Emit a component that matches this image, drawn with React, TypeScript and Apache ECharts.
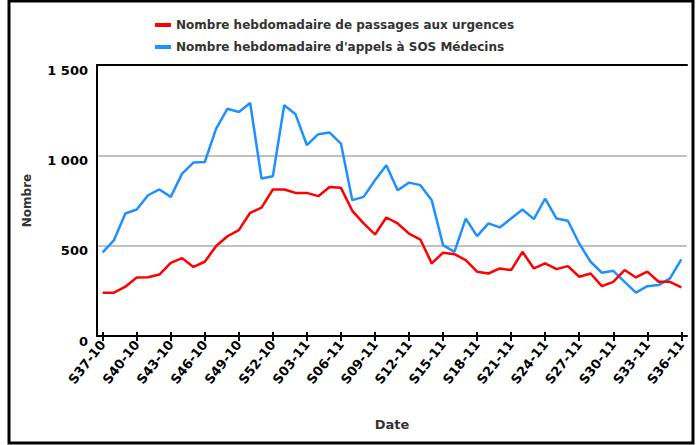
import React, { useEffect, useRef } from "react";
import * as echarts from "echarts";

const weeks: string[] = [
  "S37-10","S38-10","S39-10","S40-10","S41-10","S42-10","S43-10","S44-10","S45-10","S46-10",
  "S47-10","S48-10","S49-10","S50-10","S51-10","S52-10",
  "S01-11","S02-11","S03-11","S04-11","S05-11","S06-11","S07-11","S08-11","S09-11","S10-11",
  "S11-11","S12-11","S13-11","S14-11","S15-11","S16-11","S17-11","S18-11","S19-11","S20-11",
  "S21-11","S22-11","S23-11","S24-11","S25-11","S26-11","S27-11","S28-11","S29-11","S30-11",
  "S31-11","S32-11","S33-11","S34-11","S35-11","S36-11",
];

const urgences: number[] = [
  240, 240, 273, 324, 325, 340, 405, 431, 382, 411,
  498, 552, 586, 682, 711, 811, 811, 792, 792, 774,
  825, 820, 693, 623, 562, 656, 623, 567, 534, 402,
  461, 453, 420, 356, 346, 374, 365, 466, 374, 402,
  370, 387, 328, 346, 276, 300, 365, 324, 356, 300,
  300, 269,
];

const sosMedecins: number[] = [
  463, 531, 678, 700, 779, 811, 770, 899, 960, 963,
  1148, 1258, 1240, 1290, 872, 884, 1277, 1227, 1056, 1117,
  1126, 1065, 752, 770, 862, 945, 807, 849, 835, 752,
  503, 466, 650, 553, 623, 601, 650, 700, 647, 761,
  650, 638, 512, 411, 350, 361, 300, 240, 276, 282,
  319, 424,
];

const seriesNames: string[] = [
  "Nombre hebdomadaire de passages aux urgences",
  "Nombre hebdomadaire d'appels à SOS Médecins",
];

const FONT = "'DejaVu Sans', Verdana, sans-serif";

export default function App() {
  const ref = useRef<HTMLDivElement>(null);
  useEffect(() => {
    if (!ref.current) return;
    const chart = echarts.init(ref.current, undefined, { renderer: "svg" });
    const labelStyle = { fontFamily: FONT, fontWeight: "bold" as const, fontSize: 13, color: "#000" };
    chart.setOption({
      animation: false,
      backgroundColor: "#fff",
      textStyle: { fontFamily: FONT },
      graphic: [
        {
          type: "rect",
          shape: { x: 9, y: 1, width: 684, height: 442 },
          style: { fill: "none", stroke: "#000", lineWidth: 3 },
          silent: true,
          z: 100,
        },
      ],
      legend: {
        orient: "vertical",
        left: 150,
        top: 14,
        itemWidth: 16,
        itemHeight: 4,
        itemGap: 10,
        icon: "rect",
        textStyle: { fontFamily: FONT, fontWeight: "bold", fontSize: 12, color: "#333" },
        data: seriesNames,
      },
      grid: { left: 97, right: 13, top: 65, bottom: 109, containLabel: false },
      xAxis: [
        {
          type: "category",
          data: weeks,
          position: "bottom",
          boundaryGap: true,
          name: "Date",
          nameLocation: "middle",
          nameGap: 82,
          nameTextStyle: { fontFamily: FONT, fontWeight: "bold", fontSize: 13, color: "#333" },
          axisLine: { show: true, lineStyle: { color: "#000", width: 2 } },
          axisTick: { show: true, alignWithLabel: true, interval: 2, length: 5, lineStyle: { color: "#000", width: 2 } },
          axisLabel: { ...labelStyle, interval: 2, rotate: 52, margin: 6 },
          splitLine: { show: false },
        },
        {
          type: "category",
          data: weeks,
          position: "bottom",
          boundaryGap: true,
          axisLine: { show: false },
          axisTick: { show: true, inside: true, alignWithLabel: true, interval: 2, length: 4, lineStyle: { color: "#000", width: 2 } },
          axisLabel: { show: false },
          splitLine: { show: false },
        },
        {
          type: "category",
          data: weeks,
          position: "top",
          boundaryGap: true,
          axisLine: { show: true, lineStyle: { color: "#000", width: 2 } },
          axisTick: { show: false },
          axisLabel: { show: false },
          splitLine: { show: false },
        },
      ],
      yAxis: {
        type: "value",
        min: 0,
        max: 1500,
        interval: 500,
        name: "Nombre",
        nameLocation: "middle",
        nameGap: 64,
        nameRotate: 90,
        nameTextStyle: { fontFamily: FONT, fontWeight: "bold", fontSize: 12, color: "#333" },
        axisLine: { show: true, lineStyle: { color: "#000", width: 2 } },
        axisTick: { show: false },
        axisLabel: {
          ...labelStyle,
          margin: 9,
          verticalAlign: "top",
          lineHeight: 10,
          formatter: (v: number) => String(v).replace(/\B(?=(\d{3})+(?!\d))/g, " "),
        },
        splitLine: { show: true, lineStyle: { color: "#c0c0c0", width: 2 } },
      },
      series: [
        {
          name: seriesNames[0],
          type: "line",
          data: urgences,
          showSymbol: false,
          symbol: "none",
          lineStyle: { color: "#ff0000", width: 2.5 },
          itemStyle: { color: "#ff0000" },
          z: 3,
        },
        {
          name: seriesNames[1],
          type: "line",
          data: sosMedecins,
          showSymbol: false,
          symbol: "none",
          lineStyle: { color: "#1e90ff", width: 2.5 },
          itemStyle: { color: "#1e90ff" },
          z: 2,
        },
      ],
    });
    return () => chart.dispose();
  }, []);
  return (
    <div
      ref={ref}
      style={{ position: "absolute", left: 0, top: 0, width: 700, height: 445 }}
    />
  );
}
